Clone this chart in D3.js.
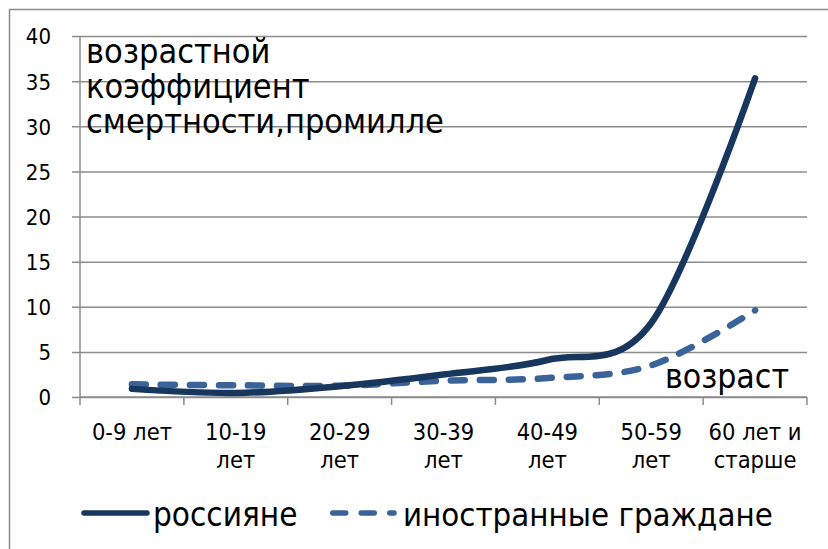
<!DOCTYPE html>
<html>
<head>
<meta charset="utf-8">
<script src="https://cdn.jsdelivr.net/npm/d3@7"></script>
<style>
body{margin:0;background:#fff;}
svg text{font-family:"DejaVu Sans Condensed","DejaVu Sans",sans-serif;fill:#000;}
</style>
</head>
<body>
<div id="chart"></div>
<script>
var categories = ["0-9 лет","10-19 лет","20-29 лет","30-39 лет","40-49 лет","50-59 лет","60 лет и старше"];
var tickLines = [["0-9 лет"],["10-19","лет"],["20-29","лет"],["30-39","лет"],["40-49","лет"],["50-59","лет"],["60 лет и","старше"]];
var russians = [0.9, 0.45, 1.2, 2.5, 4.1, 8.2, 35.3];
var foreigners = [1.4, 1.3, 1.25, 1.8, 2.1, 3.5, 9.6];
var yTicks = [0,5,10,15,20,25,30,35,40];
var titleLines = ["возрастной","коэффициент","смертности,промилле"];
var seriesNames = ["россияне","иностранные граждане"];

var W = 828, H = 549;
var plot = {left: 80, right: 807, top: 36, bottom: 397};

var svg = d3.select("#chart").append("svg")
    .attr("width", W).attr("height", H);

svg.append("rect").attr("width", W).attr("height", H).attr("fill", "#fff");
// outer frame, cut by the window on right/bottom
svg.append("rect")
    .attr("x", 9.5).attr("y", 9.5)
    .attr("width", W).attr("height", H)
    .attr("fill", "none").attr("stroke", "#8c8c8c").attr("stroke-width", 1.5);

var xScale = d3.scalePoint()
    .domain(categories)
    .range([plot.left, plot.right])
    .padding(0.5);
var step = xScale.step();

var yScale = d3.scaleLinear()
    .domain([0, 40])
    .range([plot.bottom, plot.top]);

// gridlines + y ticks
var yAxis = d3.axisLeft(yScale)
    .tickValues(yTicks)
    .tickSize(-(plot.right - plot.left))
    .tickPadding(20)
    .tickFormat(d3.format("d"));

var gy = svg.append("g")
    .attr("class", "axis y-axis")
    .attr("transform", `translate(${plot.left},0)`)
    .call(yAxis);
gy.select(".domain").remove();
gy.selectAll(".tick line")
    .attr("x1", -8)
    .attr("stroke", "#8c8c8c").attr("stroke-width", 1.5);
gy.selectAll(".tick text")
    .attr("font-size", 22)
    .attr("x", -29)
    .attr("dy", "0.36em");

// y axis line
svg.append("line")
    .attr("x1", plot.left).attr("x2", plot.left)
    .attr("y1", plot.top).attr("y2", plot.bottom + 8)
    .attr("stroke", "#8c8c8c").attr("stroke-width", 1.5);
// x axis line
svg.append("line")
    .attr("x1", plot.left).attr("x2", plot.right)
    .attr("y1", plot.bottom).attr("y2", plot.bottom)
    .attr("stroke", "#8c8c8c").attr("stroke-width", 1.5);

// x ticks between categories
var bounds = categories.map(c => xScale(c) + step / 2);
svg.selectAll("line.xtick").data(bounds)
    .enter().append("line")
    .attr("class", "xtick")
    .attr("x1", d => d).attr("x2", d => d)
    .attr("y1", plot.bottom).attr("y2", plot.bottom + 8)
    .attr("stroke", "#8c8c8c").attr("stroke-width", 1.5);

var xl = svg.selectAll("text.xlab").data(categories)
    .enter().append("text")
    .attr("class", "xlab")
    .attr("text-anchor", "middle")
    .attr("font-size", 23.5)
    .attr("x", d => xScale(d))
    .attr("y", 440);
xl.selectAll("tspan").data((d, i) => tickLines[i])
    .enter().append("tspan")
    .attr("x", function(){ return this.parentNode.getAttribute("x"); })
    .attr("dy", (d, i) => i === 0 ? 0 : 28)
    .text(d => d);

// lines
var line = d3.line()
    .x((d, i) => xScale(categories[i]))
    .y(d => yScale(d))
    .curve(d3.curveCardinal.tension(0));

svg.append("path")
    .datum(foreigners)
    .attr("d", line)
    .attr("fill", "none")
    .attr("stroke", "#3a6499")
    .attr("stroke-width", 6.5)
    .attr("stroke-linecap", "round")
    .attr("stroke-dasharray", "14,15");

svg.append("path")
    .datum(russians)
    .attr("d", line)
    .attr("fill", "none")
    .attr("stroke", "#18375e")
    .attr("stroke-width", 6.5)
    .attr("stroke-linecap", "round");

// axis titles
svg.append("text")
    .attr("x", 86).attr("y", 63)
    .attr("font-size", 34)
    .selectAll("tspan").data(titleLines)
    .enter().append("tspan")
    .attr("x", 86)
    .attr("dy", (d, i) => i === 0 ? 0 : 35)
    .text(d => d);

svg.append("text")
    .attr("x", 665).attr("y", 388)
    .attr("font-size", 33.5)
    .text("возраст");

// legend
var lg = svg.append("g").attr("class", "legend");
lg.append("line")
    .attr("x1", 84).attr("x2", 147).attr("y1", 513).attr("y2", 513)
    .attr("stroke", "#18375e").attr("stroke-width", 5.5).attr("stroke-linecap", "round");
lg.append("text").attr("x", 153).attr("y", 526).attr("font-size", 33).text(seriesNames[0]);
lg.append("line")
    .attr("x1", 332.75).attr("x2", 394).attr("y1", 513).attr("y2", 513)
    .attr("stroke", "#3a6499").attr("stroke-width", 5.5).attr("stroke-linecap", "round")
    .attr("stroke-dasharray", "13,15.5");
lg.append("text").attr("x", 403).attr("y", 526).attr("font-size", 32.7).text(seriesNames[1]);
</script>
</body>
</html>
